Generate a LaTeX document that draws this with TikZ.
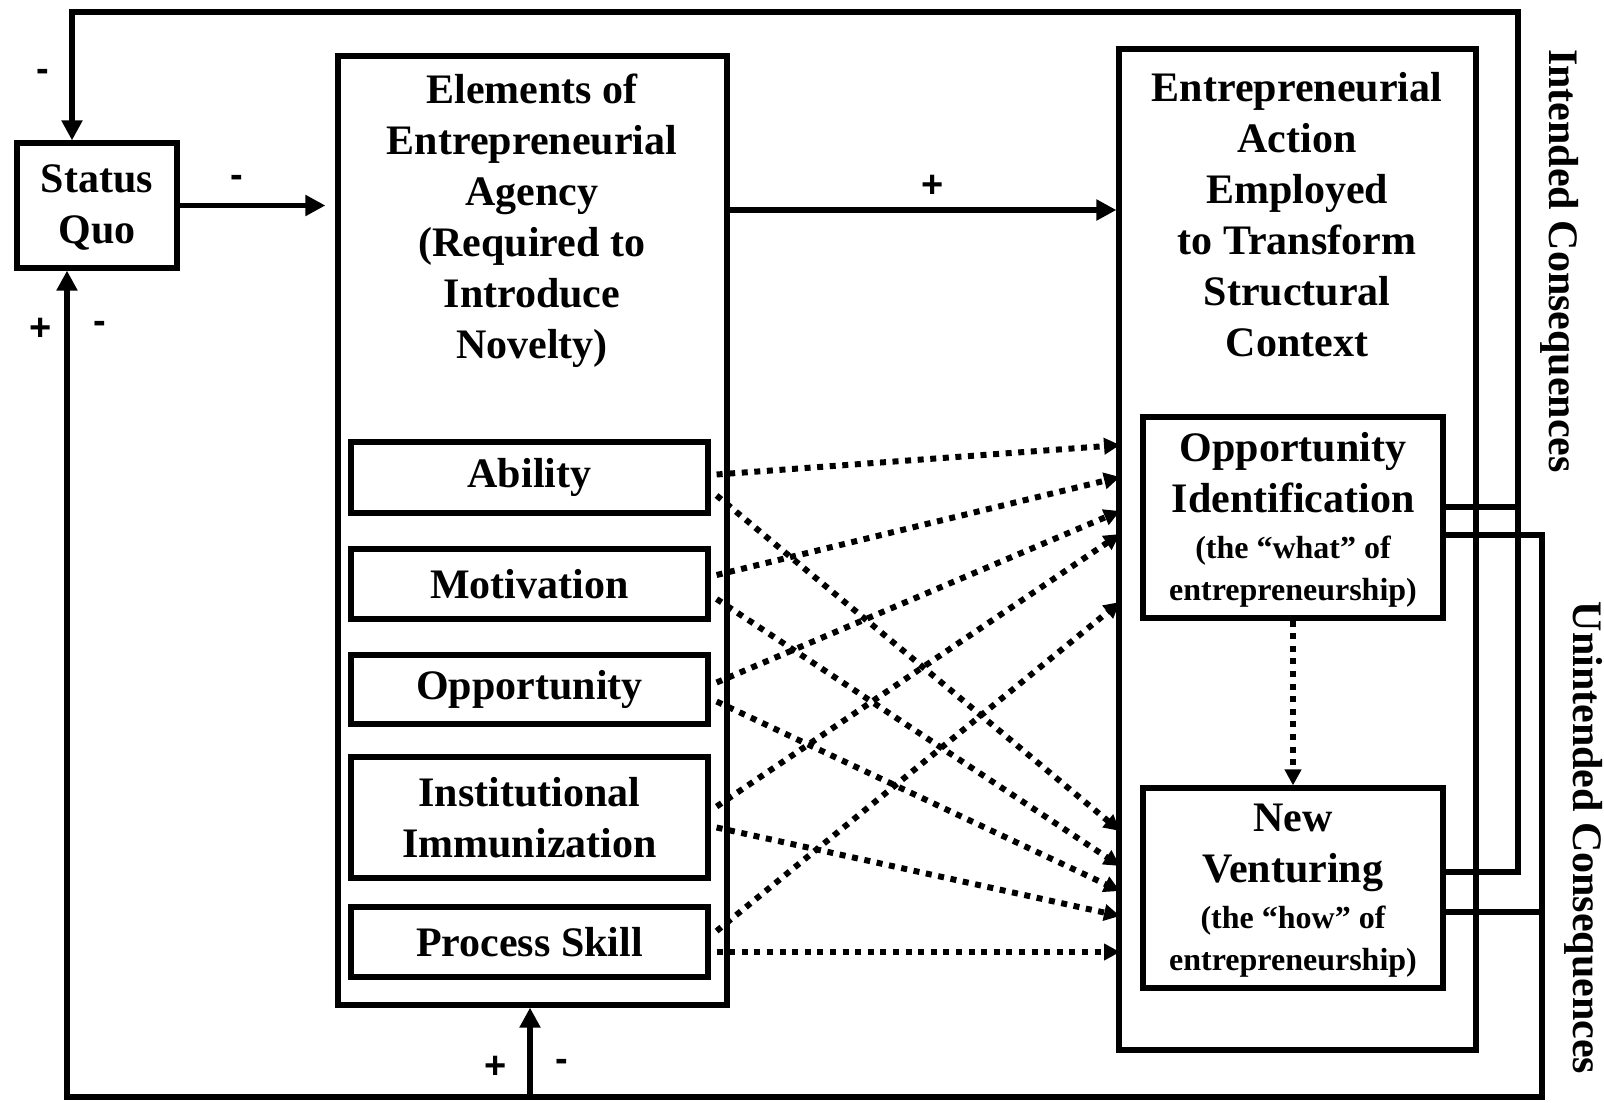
\documentclass[tikz,border=0pt]{standalone}
\usepackage{fontspec}
\setmainfont{Liberation Serif}
\newfontfamily\signfont{Liberation Sans}
\usetikzlibrary{arrows.meta,calc,fit}
\begin{document}
\begin{tikzpicture}[x=0.5pt,y=-0.5pt,
  box/.style={draw, line width=2.6pt, inner sep=0pt, align=center,
    font=\bfseries\fontsize{21}{25.5}\selectfont},
  ttl/.style={font=\bfseries\fontsize{21}{25.5}\selectfont, align=center, inner sep=0pt},
  sgn/.style={font=\signfont\bfseries\fontsize{19}{19}\selectfont, inner sep=0pt},
  solidarrow/.style={line width=2.6pt, -{Triangle[length=10pt,width=10pt]}},
  conn/.style={line width=2.6pt},
  dotarrow/.style={line width=3pt, dash pattern=on 3pt off 3.3pt,
    -{Triangle[length=8pt,width=8pt]}},
  side/.style={font=\bfseries\fontsize{21}{21}\selectfont, rotate=-90, inner sep=0pt, anchor=base}
]
\useasboundingbox (0,0) rectangle (1604,1102);

% boxes
\node[box, fit={(17,143) (177,268)}] (sq) {};
\node[ttl] (sqt) at (97,207) {Status\\Quo};

\node[box, fit={(338,56) (727,1005)}] (lb) {};
\node[ttl] (lbt) at (532,221) {Elements of\\Entrepreneurial\\Agency\\(Required to\\Introduce\\Novelty)};

\node[box, fit={(351,442) (708,513)}] (ab) {};
\node[ttl] (abt) at (ab.center) {Ability};
\node[box, fit={(351,549) (708,619)}] (mo) {};
\node[ttl] (mot) at (mo.center) {Motivation};
\node[box, fit={(351,655) (708,724)}] (op) {};
\node[ttl] (opt) at (op.center) {Opportunity};
\node[box, fit={(351,757) (708,878)}] (im) {};
\node[ttl] (imt) at (im.center) {Institutional\\Immunization};
\node[box, fit={(351,907) (708,977)}] (ps) {};
\node[ttl] (pst) at (ps.center) {Process Skill};

\node[box, fit={(1119,49) (1476,1050)}] (rb) {};
\node[ttl] (rbt) at (1297,215) {Entrepreneurial\\Action\\Employed\\to Transform\\Structural\\Context};

\node[box, fit={(1143,417) (1443,618)}] (oi) {};
\node[ttl] (oit) at (1293,520) {Opportunity\\Identification\\[-2.5pt]{\fontsize{16}{20}\selectfont (the “what” of}\\[-4.5pt]{\fontsize{16}{20}\selectfont entrepreneurship)}};
\node[box, fit={(1143,788) (1443,988)}] (nv) {};
\node[ttl] (nvt) at (1293,891) {New\\Venturing\\[-2.5pt]{\fontsize{16}{20}\selectfont (the “how” of}\\[-4.5pt]{\fontsize{16}{20}\selectfont entrepreneurship)}};

% side labels
\node[side] (ic) at (1549,261) {Intended Consequences};
\node[side] (uc) at (1573,838) {Unintended Consequences};

% corner coordinates
\coordinate (tl) at (72,12);
\coordinate (tr) at (1518,12);
\coordinate (bl) at (67,1097);
\coordinate (br) at (1542,1097);
\coordinate (bm) at (530,1097);
\coordinate (py) at (0,210);
\coordinate (oi1) at ($(oi.east)+(0,-10.5)$);
\coordinate (oi2) at ($(oi.east)+(0,17.5)$);
\coordinate (nv1) at ($(nv.east)+(0,-16)$);
\coordinate (nv2) at ($(nv.east)+(0,24)$);

% solid connectors
\draw[solidarrow, shorten >=5pt] (sq.east) -- (sq.east -| lb.west);
\draw[solidarrow] (lb.east |- py) -- (rb.west |- py);
\draw[solidarrow] (nv1) -| (tr) -- (tl) -- (tl |- sq.north);
\draw[conn] (oi1) -- (oi1 -| tr);
\draw[solidarrow] (oi2) -| (br) -- (bl) -- (bl |- sq.south);
\draw[conn] (nv2) -- (nv2 -| br);
\draw[solidarrow] (bm) -- (bm |- lb.south);

% dotted ends
\coordinate (e1) at (1120,445);
\coordinate (e2) at (1120,477);
\coordinate (e3) at (1120,511);
\coordinate (e4) at (1120,534);
\coordinate (e5) at (1120,602);
\coordinate (e6) at (1120,831);
\coordinate (e7) at (1120,866);
\coordinate (e8) at (1120,891);
\coordinate (e9) at (1120,916);
\coordinate (e10) at (1120,952);

\draw[dotarrow] ($(ab.east)+(6,-3)$) -- (e1);
\draw[dotarrow] ($(ab.east)+(6,18)$) -- (e6);
\draw[dotarrow] ($(mo.east)+(6,-9)$) -- (e2);
\draw[dotarrow] ($(mo.east)+(6,15)$) -- (e7);
\draw[dotarrow] ($(op.east)+(6,-7)$) -- (e3);
\draw[dotarrow] ($(op.east)+(6,12)$) -- (e8);
\draw[dotarrow] ($(im.east)+(6,-11)$) -- (e4);
\draw[dotarrow] ($(im.east)+(6,10)$) -- (e9);
\draw[dotarrow] ($(ps.east)+(6,-11)$) -- (e5);
\draw[dotarrow] ($(ps.east)+(6,10)$) -- (e10);
\draw[dotarrow] (oi.south) -- (nv.north);

% signs
\node[sgn] (m1) at (43,75) {-};
\node[sgn] (m2) at (237,181) {-};
\node[sgn] (p1) at (933,186) {+};
\node[sgn] (p2) at (41,329) {+};
\node[sgn] (m3) at (100,327) {-};
\node[sgn] (p3) at (496,1067) {+};
\node[sgn] (m4) at (562,1065) {-};
\end{tikzpicture}
\end{document}
